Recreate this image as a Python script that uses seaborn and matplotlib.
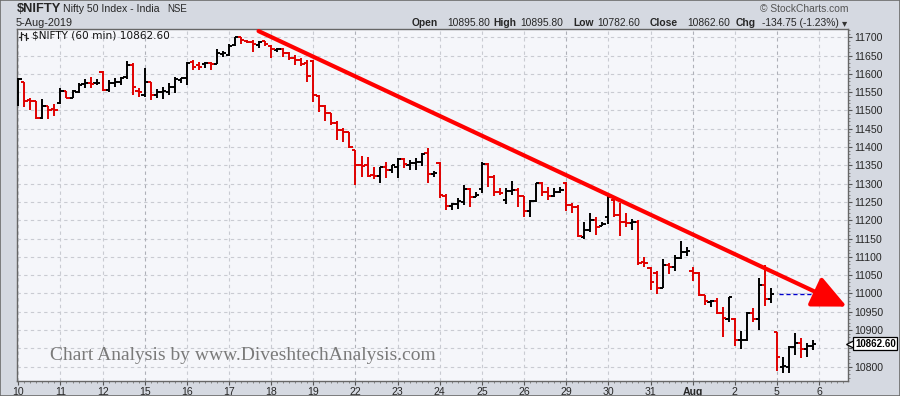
import numpy as np
import pandas as pd
import matplotlib
matplotlib.use("Agg")
import matplotlib.pyplot as plt
import matplotlib.transforms as mtransforms
from matplotlib.lines import Line2D
import seaborn as sns

# ---------------- data ----------------
day_labels = ["10", "11", "12", "15", "16", "17", "18", "19", "22", "23",
              "24", "25", "26", "29", "30", "31", "Aug", "2", "5", "6"]
monday_labels = ["15", "22", "29", "Aug", "5"]
bars_per_day = 7

opens = [11533, 11579, 11530, 11527, 11479, 11512, 11503,
         11521, 11553, 11533, 11551, 11572, 11576, 11574,
         11606, 11556, 11574, 11579, 11592, 11624, 11553,
         11542, 11579, 11542, 11551, 11551, 11565, 11583,
         11588, 11633, 11624, 11627, 11629, 11627, 11654,
         11652, 11679, 11700, 11690, 11688, 11679, 11689,
         11677, 11665, 11668, 11656, 11643, 11638, 11629,
         11634, 11540, 11512, 11492, 11467, 11447, 11440,
         11392, 11351, 11350, 11323, 11320, 11345, 11338,
         11345, 11368, 11352, 11356, 11358, 11383, 11326,
         11356, 11266, 11240, 11244, 11251, 11285, 11263,
         11285, 11354, 11319, 11277, 11255, 11280, 11283,
         11265, 11224, 11253, 11301, 11278, 11266, 11278,
         11303, 11242, 11237, 11155, 11173, 11201, 11184,
         11210, 11255, 11214, 11195, 11193, 11196, 11085,
         11069, 11057, 11014, 11078, 11073, 11098, 11112,
         11060, 11056, 10996, 10977, 10978, 10946, 10929,
         10929, 10872, 10873, 10947, 10929, 11023, 10984,
         10895.8, 10799, 10800, 10853, 10864, 10847, 10855]
highs = [11590, 11579, 11533, 11527, 11531, 11512, 11518,
         11561, 11553, 11556, 11574, 11585, 11592, 11585,
         11609, 11583, 11590, 11592, 11636, 11629, 11561,
         11615, 11579, 11558, 11563, 11574, 11592, 11590,
         11632, 11638, 11633, 11633, 11633, 11667, 11663,
         11682, 11702, 11700, 11692, 11693, 11691, 11691,
         11679, 11670, 11670, 11661, 11652, 11643, 11638,
         11638, 11542, 11515, 11492, 11470, 11451, 11442,
         11392, 11376, 11374, 11346, 11346, 11360, 11352,
         11370, 11369, 11365, 11369, 11383, 11397, 11335,
         11358, 11272, 11246, 11260, 11296, 11287, 11278,
         11360, 11356, 11324, 11287, 11287, 11308, 11287,
         11266, 11255, 11303, 11305, 11292, 11287, 11292,
         11305, 11246, 11242, 11196, 11221, 11210, 11196,
         11265, 11260, 11246, 11221, 11203, 11201, 11099,
         11071, 11060, 11094, 11084, 11105, 11144, 11128,
         11073, 11059, 10996, 10982, 10987, 10962, 10991,
         10932, 10898, 10950, 10959, 11041, 11078, 11014,
         10895.8, 10827, 10855, 10891, 10877, 10864, 10873]
lows = [11512, 11510, 11501, 11476, 11476, 11476, 11485,
        11518, 11533, 11533, 11547, 11562, 11561, 11571,
        11554, 11551, 11565, 11570, 11586, 11542, 11538,
        11538, 11530, 11533, 11531, 11542, 11547, 11574,
        11571, 11611, 11612, 11615, 11612, 11626, 11647,
        11649, 11676, 11682, 11684, 11661, 11670, 11676,
        11643, 11661, 11647, 11638, 11624, 11622, 11579,
        11524, 11497, 11470, 11460, 11420, 11415, 11397,
        11296, 11319, 11319, 11314, 11301, 11315, 11328,
        11315, 11342, 11338, 11338, 11347, 11301, 11319,
        11262, 11228, 11228, 11230, 11242, 11237, 11263,
        11274, 11292, 11265, 11269, 11244, 11269, 11237,
        11208, 11210, 11251, 11266, 11255, 11263, 11274,
        11226, 11221, 11155, 11148, 11169, 11160, 11184,
        11190, 11210, 11157, 11181, 11173, 11078, 11071,
        11010, 10999, 11014, 11053, 11062, 11095, 11102,
        11033, 10993, 10968, 10964, 10944, 10882, 10923,
        10856, 10847, 10871, 10923, 10900, 10966, 10973,
        10789, 10783, 10782.6, 10832, 10823, 10827, 10845]
closes = [11585, 11527, 11525, 11479, 11512, 11501, 11500,
          11553, 11533, 11553, 11570, 11574, 11572, 11576,
          11556, 11576, 11579, 11590, 11624, 11563, 11551,
          11579, 11542, 11551, 11553, 11565, 11585, 11588,
          11629, 11618, 11620, 11631, 11627, 11656, 11658,
          11676, 11700, 11693, 11687, 11682, 11686, 11682,
          11668, 11668, 11656, 11643, 11638, 11627, 11593,
          11542, 11512, 11493, 11465, 11447, 11440, 11400,
          11351, 11349, 11322, 11320, 11345, 11338, 11350,
          11368, 11354, 11356, 11358, 11381, 11326, 11330,
          11268, 11240, 11244, 11252, 11285, 11263, 11269,
          11354, 11319, 11276, 11275, 11281, 11283, 11265,
          11224, 11253, 11301, 11278, 11266, 11278, 11283,
          11242, 11237, 11157, 11173, 11201, 11181, 11190,
          11263, 11214, 11194, 11193, 11196, 11084, 11083,
          11032, 11014, 11078, 11073, 11098, 11114, 11116,
          11056, 10996, 10978, 10979, 10946, 10932, 10989,
          10873, 10874, 10947, 10929, 11023, 10984, 10997.35,
          10825, 10801, 10853, 10864, 10847, 10855, 10862.6]

price_ticks = list(range(10800, 11701, 50))
hidden_tick = 10850          # label covered by the last-price tag
prev_close = 10997.35
day_open, day_high, day_low, day_close = 10895.80, 10895.80, 10782.60, 10862.60
trend_bar = [39.9, 137.6]
trend_price = [11717, 10964]

# ---------------- style ----------------
sns.set_theme(style="white")
plt.rcParams['font.family'] = ['Liberation Sans', 'DejaVu Sans']

df = pd.DataFrame({"open": opens, "high": highs, "low": lows, "close": closes})
df["bar"] = np.arange(len(df))
df["color"] = np.where(df["close"] >= df["open"], "#000000", "#e00000")

W, H = 900, 396
fig = plt.figure(figsize=(W / 100, H / 100), dpi=100)
fig.patch.set_facecolor("#d5d9e1")

ax = fig.add_axes([17 / W, 1 - 381 / H, (848 - 17) / W, (381 - 29) / H])
ax.set_facecolor("#f5f6fa")
ax.set_xlim(-0.22, 137.8)
ax.set_ylim(10760.7, 11722.7)

# grid
for p in price_ticks:
    ax.axhline(p, color="#c9cbd2", lw=0.8, ls=(0, (3, 3)), zorder=0)
day_pos = [i * bars_per_day for i in range(len(day_labels))]
for pos, lab in zip(day_pos, day_labels):
    c = "#aeb0b8" if lab in monday_labels else "#c9cbd2"
    ax.axvline(pos, color=c, lw=0.8, ls=(0, (3, 3)), zorder=0)

# OHLC bars
ax.vlines(df["bar"], df["low"], df["high"], colors=df["color"], lw=1.4, zorder=3)
ax.hlines(df["open"], df["bar"] - 0.55, df["bar"], colors=df["color"], lw=1.4, zorder=3)
ax.hlines(df["close"], df["bar"], df["bar"] + 0.55, colors=df["color"], lw=1.4, zorder=3)

# previous close dashed line
ax.hlines(prev_close, 126.3, 132.7, colors="#0000cc", lw=1.0, ls=(0, (3, 2)), zorder=4)

# trend line with arrow
ax.annotate("", xy=(trend_bar[1], trend_price[1]), xytext=(trend_bar[0], trend_price[0]),
            arrowprops=dict(arrowstyle="-|>,head_length=1.4,head_width=0.65",
                            color="#ff0000", lw=3.0, mutation_scale=15,
                            shrinkA=0, shrinkB=0),
            zorder=5, annotation_clip=False)

# axes
ax.yaxis.tick_right()
ax.set_yticks(price_ticks)
ax.set_yticklabels(["" if p == hidden_tick else str(p) for p in price_ticks], fontsize=7.6)
ax.set_yticks(np.arange(10770, 11721, 10), minor=True)
ax.set_xticks(day_pos)
ax.set_xticklabels(day_labels, fontsize=7.6)
for t in ax.get_xticklabels():
    if t.get_text() == "Aug":
        t.set_fontweight("bold")
ax.set_xticks(np.arange(0, 138), minor=True)
ax.tick_params(axis="y", which="major", direction="out", length=3, width=0.8,
               color="#555555", pad=1.5, right=True, left=False)
ax.tick_params(axis="y", which="minor", direction="out", length=1.5, width=0.6,
               color="#777777", right=True, left=False)
ax.tick_params(axis="x", which="major", direction="out", length=3, width=0.8,
               color="#555555", pad=1.5, bottom=True)
ax.tick_params(axis="x", which="minor", direction="out", length=1.5, width=0.6,
               color="#777777", bottom=True)
for s in ax.spines.values():
    s.set_color("#666666")
    s.set_linewidth(1.0)

# last price tag
blend = mtransforms.blended_transform_factory(ax.transAxes, ax.transData)
ax.annotate(f"{day_close:.2f}", xy=(1.0, day_close), xycoords=blend,
            xytext=(5, 0), textcoords="offset points", ha="left", va="center",
            fontsize=7.0, fontweight="bold", color="black", zorder=10,
            bbox=dict(boxstyle="square,pad=0.15", fc="white", ec="black", lw=0.9),
            annotation_clip=False)
ax.plot([1.003], [day_close], marker="<", ms=6, mfc="white", mec="black", mew=0.9,
        transform=blend, clip_on=False, zorder=9)

# in-plot label with small bar icon
def fpx(x, y):
    return x / W, 1 - y / H

for (x0, ytop, ybot, yo, yc) in [(21, 32, 40, 37, 34), (26, 33, 40, 35, 38)]:
    xa, ya = fpx(x0, ytop)
    _, yb = fpx(x0, ybot)
    fig.add_artist(Line2D([xa, xa], [ya, yb], color="#222222", lw=0.9))
    _, yoo = fpx(x0, yo)
    _, ycc = fpx(x0, yc)
    fig.add_artist(Line2D([xa - 2 / W, xa], [yoo, yoo], color="#222222", lw=0.9))
    fig.add_artist(Line2D([xa, xa + 2 / W], [ycc, ycc], color="#222222", lw=0.9))

ax.text(15 / 831, 1 - 6 / 352, f"$NIFTY (60 min) {day_close:.2f}", transform=ax.transAxes,
        fontsize=7.6, family="DejaVu Sans", va="center", ha="left", color="#111111")

# watermark
ax.text(33 / 831, 1 - (356 - 29) / 352, "Chart Analysis by www.DiveshtechAnalysis.com",
        transform=ax.transAxes, fontsize=14, family="Liberation Serif",
        color="#7a7a7a", va="center", ha="left", zorder=6)

# header
def ftext(x, y, s, **kw):
    fig.text(x / W, 1 - y / H, s, va="center", ha="left", **kw)

ftext(17, 8.5, "$NIFTY", fontsize=9.3, fontweight="bold")
ftext(63, 8.5, "Nifty 50 Index - India", fontsize=7.6)
ftext(167, 9, "NSE", fontsize=7)
ftext(16, 22.5, "5-Aug-2019", fontsize=7.8)
ftext(760, 8.5, "\u00a9 StockCharts.com", fontsize=7.4, color="#555555")

hs = 7.4
ftext(412, 23, "Open", fontsize=hs, fontweight="bold")
ftext(447, 23, f"{day_open:.2f}", fontsize=hs)
ftext(493, 23, "High", fontsize=hs, fontweight="bold")
ftext(520, 23, f"{day_high:.2f}", fontsize=hs)
ftext(573, 23, "Low", fontsize=hs, fontweight="bold")
ftext(597, 23, f"{day_low:.2f}", fontsize=hs)
ftext(650, 23, "Close", fontsize=hs, fontweight="bold")
ftext(687, 23, f"{day_close:.2f}", fontsize=hs)
ftext(736, 23, "Chg", fontsize=hs, fontweight="bold")
chg = day_close - prev_close
ftext(762, 23, f"{chg:.2f} ({chg / prev_close * 100:.2f}%)", fontsize=hs)
ftext(842, 23, "\u25be", fontsize=7.5, family="DejaVu Sans", color="#333333")

# outer frame
fig.patches.append(plt.Rectangle((0.0005, 0.001), 0.999, 0.998, transform=fig.transFigure,
                                 fill=False, ec="#6c6c6c", lw=1.2))

fig.savefig("out.png", dpi=100, facecolor=fig.get_facecolor())
